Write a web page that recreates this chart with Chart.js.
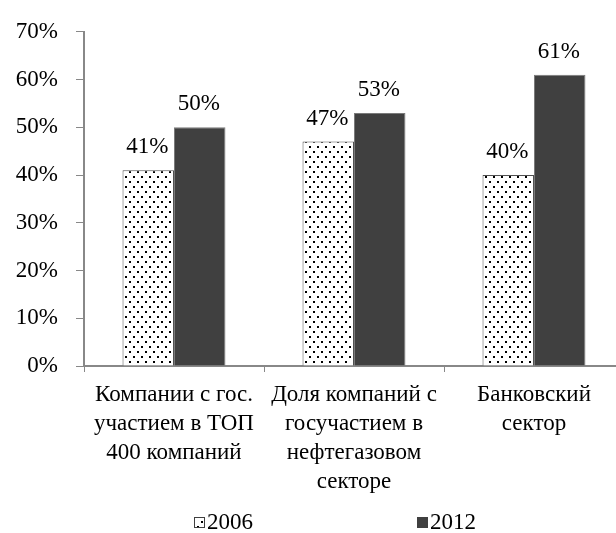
<!DOCTYPE html>
<html>
<head>
<meta charset="utf-8">
<script src="https://cdn.jsdelivr.net/npm/chart.js@4/dist/chart.umd.min.js"></script>
<style>
html,body{margin:0;padding:0;background:#fff;}
#wrap{width:616px;height:533px;overflow:hidden;position:relative;}
canvas{display:block;}
</style>
</head>
<body>
<div id="wrap"><canvas id="c" width="624" height="533"></canvas></div>
<script>
const categories = [
  ["Компании с гос.", "участием в ТОП", "400 компаний"],
  ["Доля компаний с", "госучастием в", "нефтегазовом", "секторе"],
  ["Банковский", "сектор"]
];
const seriesNames = ["2006", "2012"];
const values2006 = [0.41, 0.47, 0.40];
const values2012 = [0.50, 0.53, 0.61];
const yTicks = [0, 0.1, 0.2, 0.3, 0.4, 0.5, 0.6, 0.7];

const FONT = '"Liberation Serif"';
const FS = 23;

function makeDots() {
  const p = document.createElement('canvas');
  p.width = 8; p.height = 10;
  const g = p.getContext('2d');
  g.fillStyle = '#fff';
  g.fillRect(0, 0, 8, 10);
  g.fillStyle = '#000';
  g.fillRect(1, 1, 2, 2);
  g.fillRect(5, 6, 2, 2);
  return p;
}

function build() {
  const ctx = document.getElementById('c').getContext('2d');
  const dots = ctx.createPattern(makeDots(), 'repeat');

  const valueLabels = {
    id: 'valueLabels',
    afterDatasetsDraw(chart) {
      const c = chart.ctx;
      c.save();
      c.font = FS + 'px ' + FONT;
      c.fillStyle = '#000';
      c.textAlign = 'center';
      c.textBaseline = 'alphabetic';
      chart.data.datasets.forEach((ds, i) => {
        chart.getDatasetMeta(i).data.forEach((bar, j) => {
          c.fillText(Math.round(ds.data[j] * 100) + '%', bar.x - 1, bar.y - 17);
        });
      });
      c.restore();
    }
  };

  const customLegend = {
    id: 'customLegend',
    afterDraw(chart) {
      const c = chart.ctx;
      const pos = [194, 417];
      c.save();
      c.font = FS + 'px ' + FONT;
      c.textBaseline = 'alphabetic';
      c.textAlign = 'left';
      chart.data.datasets.forEach((ds, i) => {
        const x = pos[i], y = 517;
        c.fillStyle = ds.backgroundColor;
        c.fillRect(x, y, 10, 10);
        c.strokeStyle = '#404040';
        c.lineWidth = 1;
        c.strokeRect(x + 0.5, y + 0.5, 10, 10);
        c.fillStyle = '#000';
        c.fillText(ds.label, x + 13, 529);
      });
      c.restore();
    }
  };

  new Chart(ctx, {
    type: 'bar',
    data: {
      labels: categories,
      datasets: [
        { label: seriesNames[0], data: values2006, backgroundColor: dots, borderColor: '#505050', borderWidth: 1 },
        { label: seriesNames[1], data: values2012, backgroundColor: '#404040', borderColor: '#7a7a7a', borderWidth: 1 }
      ]
    },
    options: {
      responsive: false,
      animation: false,
      font: { family: FONT },
      layout: { padding: { top: 25, right: 0, bottom: 0, left: 0 } },
      plugins: { legend: { display: false }, tooltip: { enabled: false } },
      datasets: { bar: { categoryPercentage: 0.572, barPercentage: 1 } },
      scales: {
        x: {
          afterFit(s) { s.height = 533 - 366; },
          grid: { display: true, drawOnChartArea: false, drawTicks: true, tickLength: 6, color: '#888', offset: true },
          border: { display: true, color: '#888', width: 2 },
          ticks: { color: '#000', font: { family: FONT, size: FS, lineHeight: 1.25 }, padding: 9, maxRotation: 0, autoSkip: false }
        },
        y: {
          min: 0, max: 0.7,
          afterFit(s) { s.width = 84; },
          afterBuildTicks(s) { s.ticks = yTicks.map(v => ({ value: v })); },
          grid: { display: true, drawOnChartArea: false, drawTicks: true, tickLength: 8, color: '#888' },
          border: { display: true, color: '#888', width: 2 },
          ticks: { color: '#000', font: { family: FONT, size: FS }, padding: 18, callback: v => Math.round(v * 100) + '%' }
        }
      }
    },
    plugins: [valueLabels, customLegend]
  });
}

Chart.defaults.font.family = FONT;
if (document.fonts && document.fonts.load) {
  document.fonts.load(FS + 'px "Liberation Serif"', 'Компании 0123456789%').then(build, build);
} else {
  build();
}
</script>
</body>
</html>
